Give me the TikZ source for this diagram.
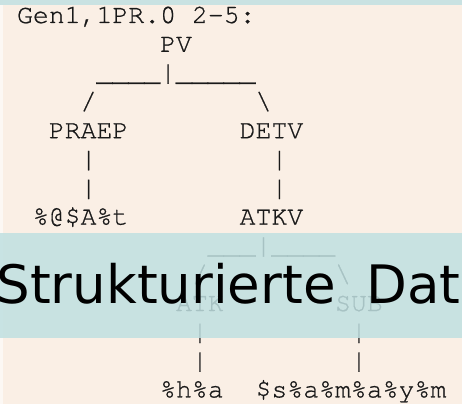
\documentclass[tikz,border=0pt]{standalone}
\usepackage{fontspec}
\newfontfamily\monofont[FakeBold=0.8]{TeX Gyre Cursor}
\newfontfamily\bandfont{DejaVu Sans}
\definecolor{beige}{RGB}{250,239,229}
\definecolor{tealstrip}{RGB}{201,226,226}
\definecolor{tealband}{RGB}{192,224,225}
\definecolor{edgewhite}{RGB}{252,248,244}
\begin{document}
\begin{tikzpicture}[x=1pt,y=-1pt,
  mono/.style={font=\monofont\fontsize{26.5}{28.8}\selectfont, text=black!90,
    inner sep=0pt, outer sep=0pt, anchor=base west},
  bandtext/.style={font=\bandfont\fontsize{53}{60}\selectfont, text=black,
    inner sep=0pt, outer sep=0pt, anchor=base west}]
\useasboundingbox (0,0) rectangle (462,404);
\clip (0,0) rectangle (462,404);
\fill[beige] (0,0) rectangle (462,404);
\fill[edgewhite] (0,0) rectangle (3,404);
\fill[tealstrip] (0,0) rectangle (462,5);
\begin{scope}[shift={(17.05,23)}, x=15.9pt, y=-28.8pt]
  \node[mono] (hdr) at (0,0) {Gen1,1PR.0 2-5:};
  \node[mono] (pv) at (9,1) {PV};
  \node[mono] (pvbar) at (5,2) {\_\_\_\_|\_\_\_\_\_};
  \node[mono] (pvl) at (4,3) {/};
  \node[mono] (pvr) at (15,3) {\textbackslash};
  \node[mono] (praep) at (2,4) {PRAEP};
  \node[mono] (detv) at (14,4) {DETV};
  \node[mono] (praepa) at (4,5) {|};
  \node[mono] (detva) at (16,5) {|};
  \node[mono] (praepb) at (4,6) {|};
  \node[mono] (detvb) at (16,6) {|};
  \node[mono] (praepw) at (1,7) {\%@\$A\%t};
  \node[mono] (atkv) at (14,7) {ATKV};
  \node[mono] (atkvbar) at (12,8) {\_\_\_|\_\_\_\_};
  \node[mono] (atkvl) at (11,9) {/};
  \node[mono] (atkvr) at (20,9) {\textbackslash};
  \node[mono] (atk) at (10,10) {ATK};
  \node[mono] (sub) at (20,10) {SUB};
  \node[mono] (atka) at (11,11) {|};
  \node[mono] (suba) at (21,11) {|};
  \node[mono] (atkb) at (11,12) {|};
  \node[mono] (subb) at (21,12) {|};
  \node[mono] (atkw) at (9,13) {\%h\%a};
  \node[mono] (subw) at (15,13) {\$s\%a\%m\%a\%y\%m};
\end{scope}
\fill[tealband, fill opacity=0.85] (0,233) rectangle (462,338);
\node[bandtext] (band) at (-3.5,303) {\spaceskip=31pt Strukturierte Date};
\end{tikzpicture}
\end{document}
